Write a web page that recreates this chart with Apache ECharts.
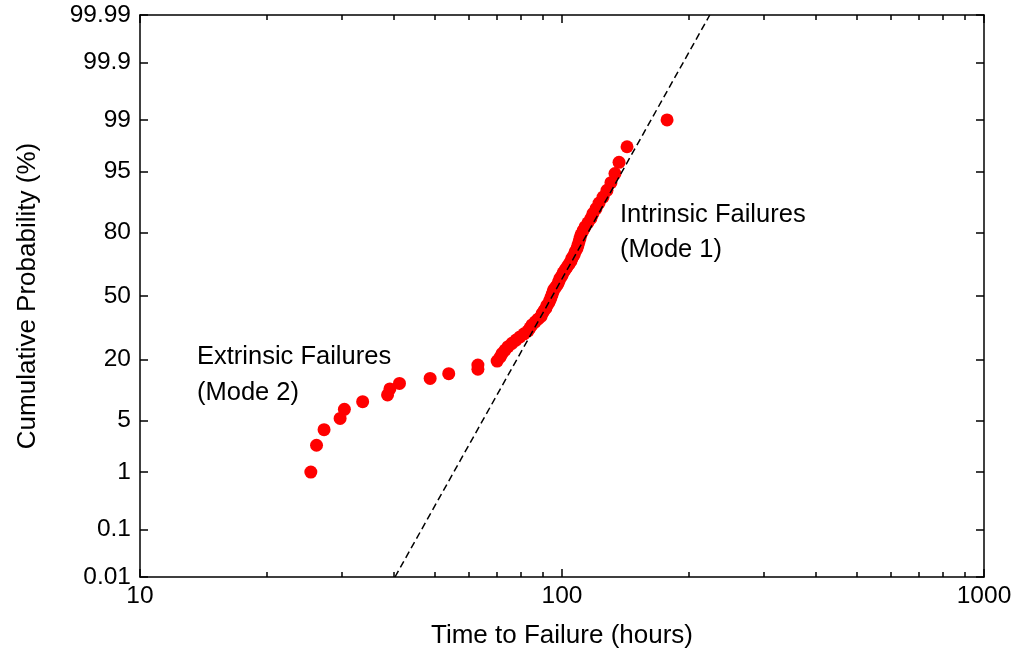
<!DOCTYPE html>
<html>
<head>
<meta charset="utf-8">
<script src="https://cdn.jsdelivr.net/npm/echarts@6/dist/echarts.min.js"></script>
<style>
html,body{margin:0;padding:0;background:#fff;}
#chart{width:1015px;height:655px;}
</style>
</head>
<body>
<div id="chart"></div>
<script>
// ---- data ----
const timeHours = [25.4, 26.2, 27.3, 29.8, 30.5, 33.7, 38.6, 39.1, 41.2, 48.7,
  53.9, 63.2, 63.2, 70.2, 71.3, 72.1, 73.3, 74.5, 76.1, 77.8,
  79.5, 81.3, 83.1, 84.0, 84.9, 86.3, 87.7, 89.2, 89.7, 90.6,
  91.6, 92.1, 93.1, 93.7, 94.2, 94.7, 95.2, 95.7, 96.8, 97.8,
  98.4, 98.9, 100.0, 100.6, 101.7, 102.8, 103.9, 105.0, 105.6, 106.8,
  107.4, 108.5, 109.1, 109.7, 110.3, 110.9, 112.1, 113.4, 115.2, 117.1,
  118.4, 120.4, 122.4, 125.1, 127.8, 130.6, 133.5, 136.5, 142.6, 177.4];
const cumProbPct = [0.99, 2.41, 3.84, 5.26, 6.68, 8.10, 9.52, 10.94, 12.36, 13.78,
  15.20, 16.62, 18.04, 19.46, 20.88, 22.30, 23.72, 25.14, 26.56, 27.98,
  29.40, 30.82, 32.24, 33.66, 35.09, 36.51, 37.93, 39.35, 40.77, 42.19,
  43.61, 45.03, 46.45, 47.87, 49.29, 50.71, 52.13, 53.55, 54.97, 56.39,
  57.81, 59.23, 60.65, 62.07, 63.49, 64.91, 66.34, 67.76, 69.18, 70.60,
  72.02, 73.44, 74.86, 76.28, 77.70, 79.12, 80.54, 81.96, 83.38, 84.80,
  86.22, 87.64, 89.06, 90.48, 91.90, 93.32, 94.74, 96.16, 97.59, 99.01];
const fitLineTime = [40.2, 224];
const fitLinePct = [0.01, 99.99];
const yTickPct = [0.01, 0.1, 1, 5, 20, 50, 80, 95, 99, 99.9, 99.99];
const yTickLabels = ['0.01', '0.1', '1', '5', '20', '50', '80', '95', '99', '99.9', '99.99'];
const xMinorTicks = [20, 30, 40, 50, 60, 70, 80, 90, 200, 300, 400, 500, 600, 700, 800, 900];
const xRange = [10, 1000];

// inverse standard normal CDF (Acklam)
function probit(p) {
  const a = [-3.969683028665376e+01, 2.209460984245205e+02, -2.759285104469687e+02, 1.383577518672690e+02, -3.066479806614716e+01, 2.506628277459239e+00];
  const b = [-5.447609879822406e+01, 1.615858368580409e+02, -1.556989798598866e+02, 6.680131188771972e+01, -1.328068155288572e+01];
  const c = [-7.784894002430293e-03, -3.223964580411365e-01, -2.400758277161838e+00, -2.549732539343734e+00, 4.374664141464968e+00, 2.938163982698783e+00];
  const d = [7.784695709041462e-03, 3.224671290700398e-01, 2.445134137142996e+00, 3.754408661907416e+00];
  const pl = 0.02425, ph = 1 - pl;
  let q, r;
  if (p < pl) {
    q = Math.sqrt(-2 * Math.log(p));
    return (((((c[0]*q+c[1])*q+c[2])*q+c[3])*q+c[4])*q+c[5]) / ((((d[0]*q+d[1])*q+d[2])*q+d[3])*q+1);
  }
  if (p > ph) {
    q = Math.sqrt(-2 * Math.log(1 - p));
    return -(((((c[0]*q+c[1])*q+c[2])*q+c[3])*q+c[4])*q+c[5]) / ((((d[0]*q+d[1])*q+d[2])*q+d[3])*q+1);
  }
  q = p - 0.5; r = q * q;
  return (((((a[0]*r+a[1])*r+a[2])*r+a[3])*r+a[4])*r+a[5])*q / (((((b[0]*r+b[1])*r+b[2])*r+b[3])*r+b[4])*r+1);
}

const yTickZ = yTickPct.map(p => probit(p / 100));
const yMin = yTickZ[0], yMax = yTickZ[yTickZ.length - 1];
const scatterData = timeHours.map((t, i) => [t, probit(cumProbPct[i] / 100)]);
const lineData = fitLineTime.map((t, i) => [t, probit(fitLinePct[i] / 100)]);
const minorLog = xMinorTicks.map(v => Math.log10(v));

const FONT = "'Liberation Sans', Arial, Helvetica, sans-serif";
const axisLineStyle = { color: '#000', width: 1.5 };

function yLabel(v) {
  let best = 0, bd = Infinity;
  yTickZ.forEach((z, i) => { const dd = Math.abs(z - v); if (dd < bd) { bd = dd; best = i; } });
  return yTickLabels[best];
}

const chart = echarts.init(document.getElementById('chart'), null, { renderer: 'canvas' });
chart.setOption({
  animation: false,
  backgroundColor: '#fff',
  grid: { left: 140, right: 31, top: 15, bottom: 78, containLabel: false },
  xAxis: [
    {
      type: 'log', logBase: 10, min: xRange[0], max: xRange[1], position: 'bottom',
      name: 'Time to Failure (hours)', nameLocation: 'middle', nameGap: 46,
      nameTextStyle: { fontFamily: FONT, fontSize: 26, color: '#000' },
      axisLine: { show: true, onZero: false, lineStyle: axisLineStyle },
      axisTick: { show: true, inside: true, length: 8, lineStyle: axisLineStyle },
      axisLabel: { show: true, margin: 7, fontFamily: FONT, fontSize: 24.5, color: '#000',
        formatter: v => String(Math.round(v)) },
      splitLine: { show: false }, minorTick: { show: false }
    },
    {
      type: 'log', logBase: 10, min: xRange[0], max: xRange[1], position: 'top',
      axisLine: { show: true, onZero: false, lineStyle: axisLineStyle },
      axisTick: { show: true, inside: true, length: 8, lineStyle: axisLineStyle },
      axisLabel: { show: false }, splitLine: { show: false }
    },
    {
      type: 'value', min: Math.log10(xRange[0]), max: Math.log10(xRange[1]), position: 'bottom',
      axisLine: { show: false, onZero: false },
      axisTick: { show: true, inside: true, length: 5, customValues: minorLog, lineStyle: axisLineStyle },
      axisLabel: { show: false }, splitLine: { show: false }
    },
    {
      type: 'value', min: Math.log10(xRange[0]), max: Math.log10(xRange[1]), position: 'top',
      axisLine: { show: false, onZero: false },
      axisTick: { show: true, inside: true, length: 5, customValues: minorLog, lineStyle: axisLineStyle },
      axisLabel: { show: false }, splitLine: { show: false }
    }
  ],
  yAxis: [
    {
      type: 'value', min: yMin, max: yMax, position: 'left',
      name: 'Cumulative Probability (%)', nameLocation: 'middle', nameGap: 99,
      nameTextStyle: { fontFamily: FONT, fontSize: 26, color: '#000' },
      axisLine: { show: true, onZero: false, lineStyle: axisLineStyle },
      axisTick: { show: true, inside: true, length: 8, customValues: yTickZ, lineStyle: axisLineStyle },
      axisLabel: { show: true, margin: 9, customValues: yTickZ, formatter: yLabel, fontFamily: FONT, fontSize: 24.5, color: '#000' },
      splitLine: { show: false }
    },
    {
      type: 'value', min: yMin, max: yMax, position: 'right',
      axisLine: { show: true, onZero: false, lineStyle: axisLineStyle },
      axisTick: { show: true, inside: true, length: 8, customValues: yTickZ, lineStyle: axisLineStyle },
      axisLabel: { show: false }, splitLine: { show: false }
    }
  ],
  graphic: [
    {
      type: 'text', left: 197, top: 339, silent: true,
      style: { text: 'Extrinsic Failures\n(Mode 2)', font: '25.5px ' + FONT, fill: '#000', lineHeight: 36 }
    },
    {
      type: 'text', left: 620, top: 197, silent: true,
      style: { text: 'Intrinsic Failures\n(Mode 1)', font: '25.5px ' + FONT, fill: '#000', lineHeight: 35 }
    }
  ],
  series: [
    {
      type: 'scatter', xAxisIndex: 0, yAxisIndex: 0,
      symbol: 'circle', symbolSize: 13,
      itemStyle: { color: '#ff0000', opacity: 1 },
      data: scatterData, z: 2
    },
    {
      type: 'line', xAxisIndex: 0, yAxisIndex: 0,
      showSymbol: false, symbol: 'none',
      lineStyle: { color: '#000', width: 1.5, type: [7, 4] },
      data: lineData, z: 3, silent: true
    }
  ]
});
</script>
</body>
</html>
